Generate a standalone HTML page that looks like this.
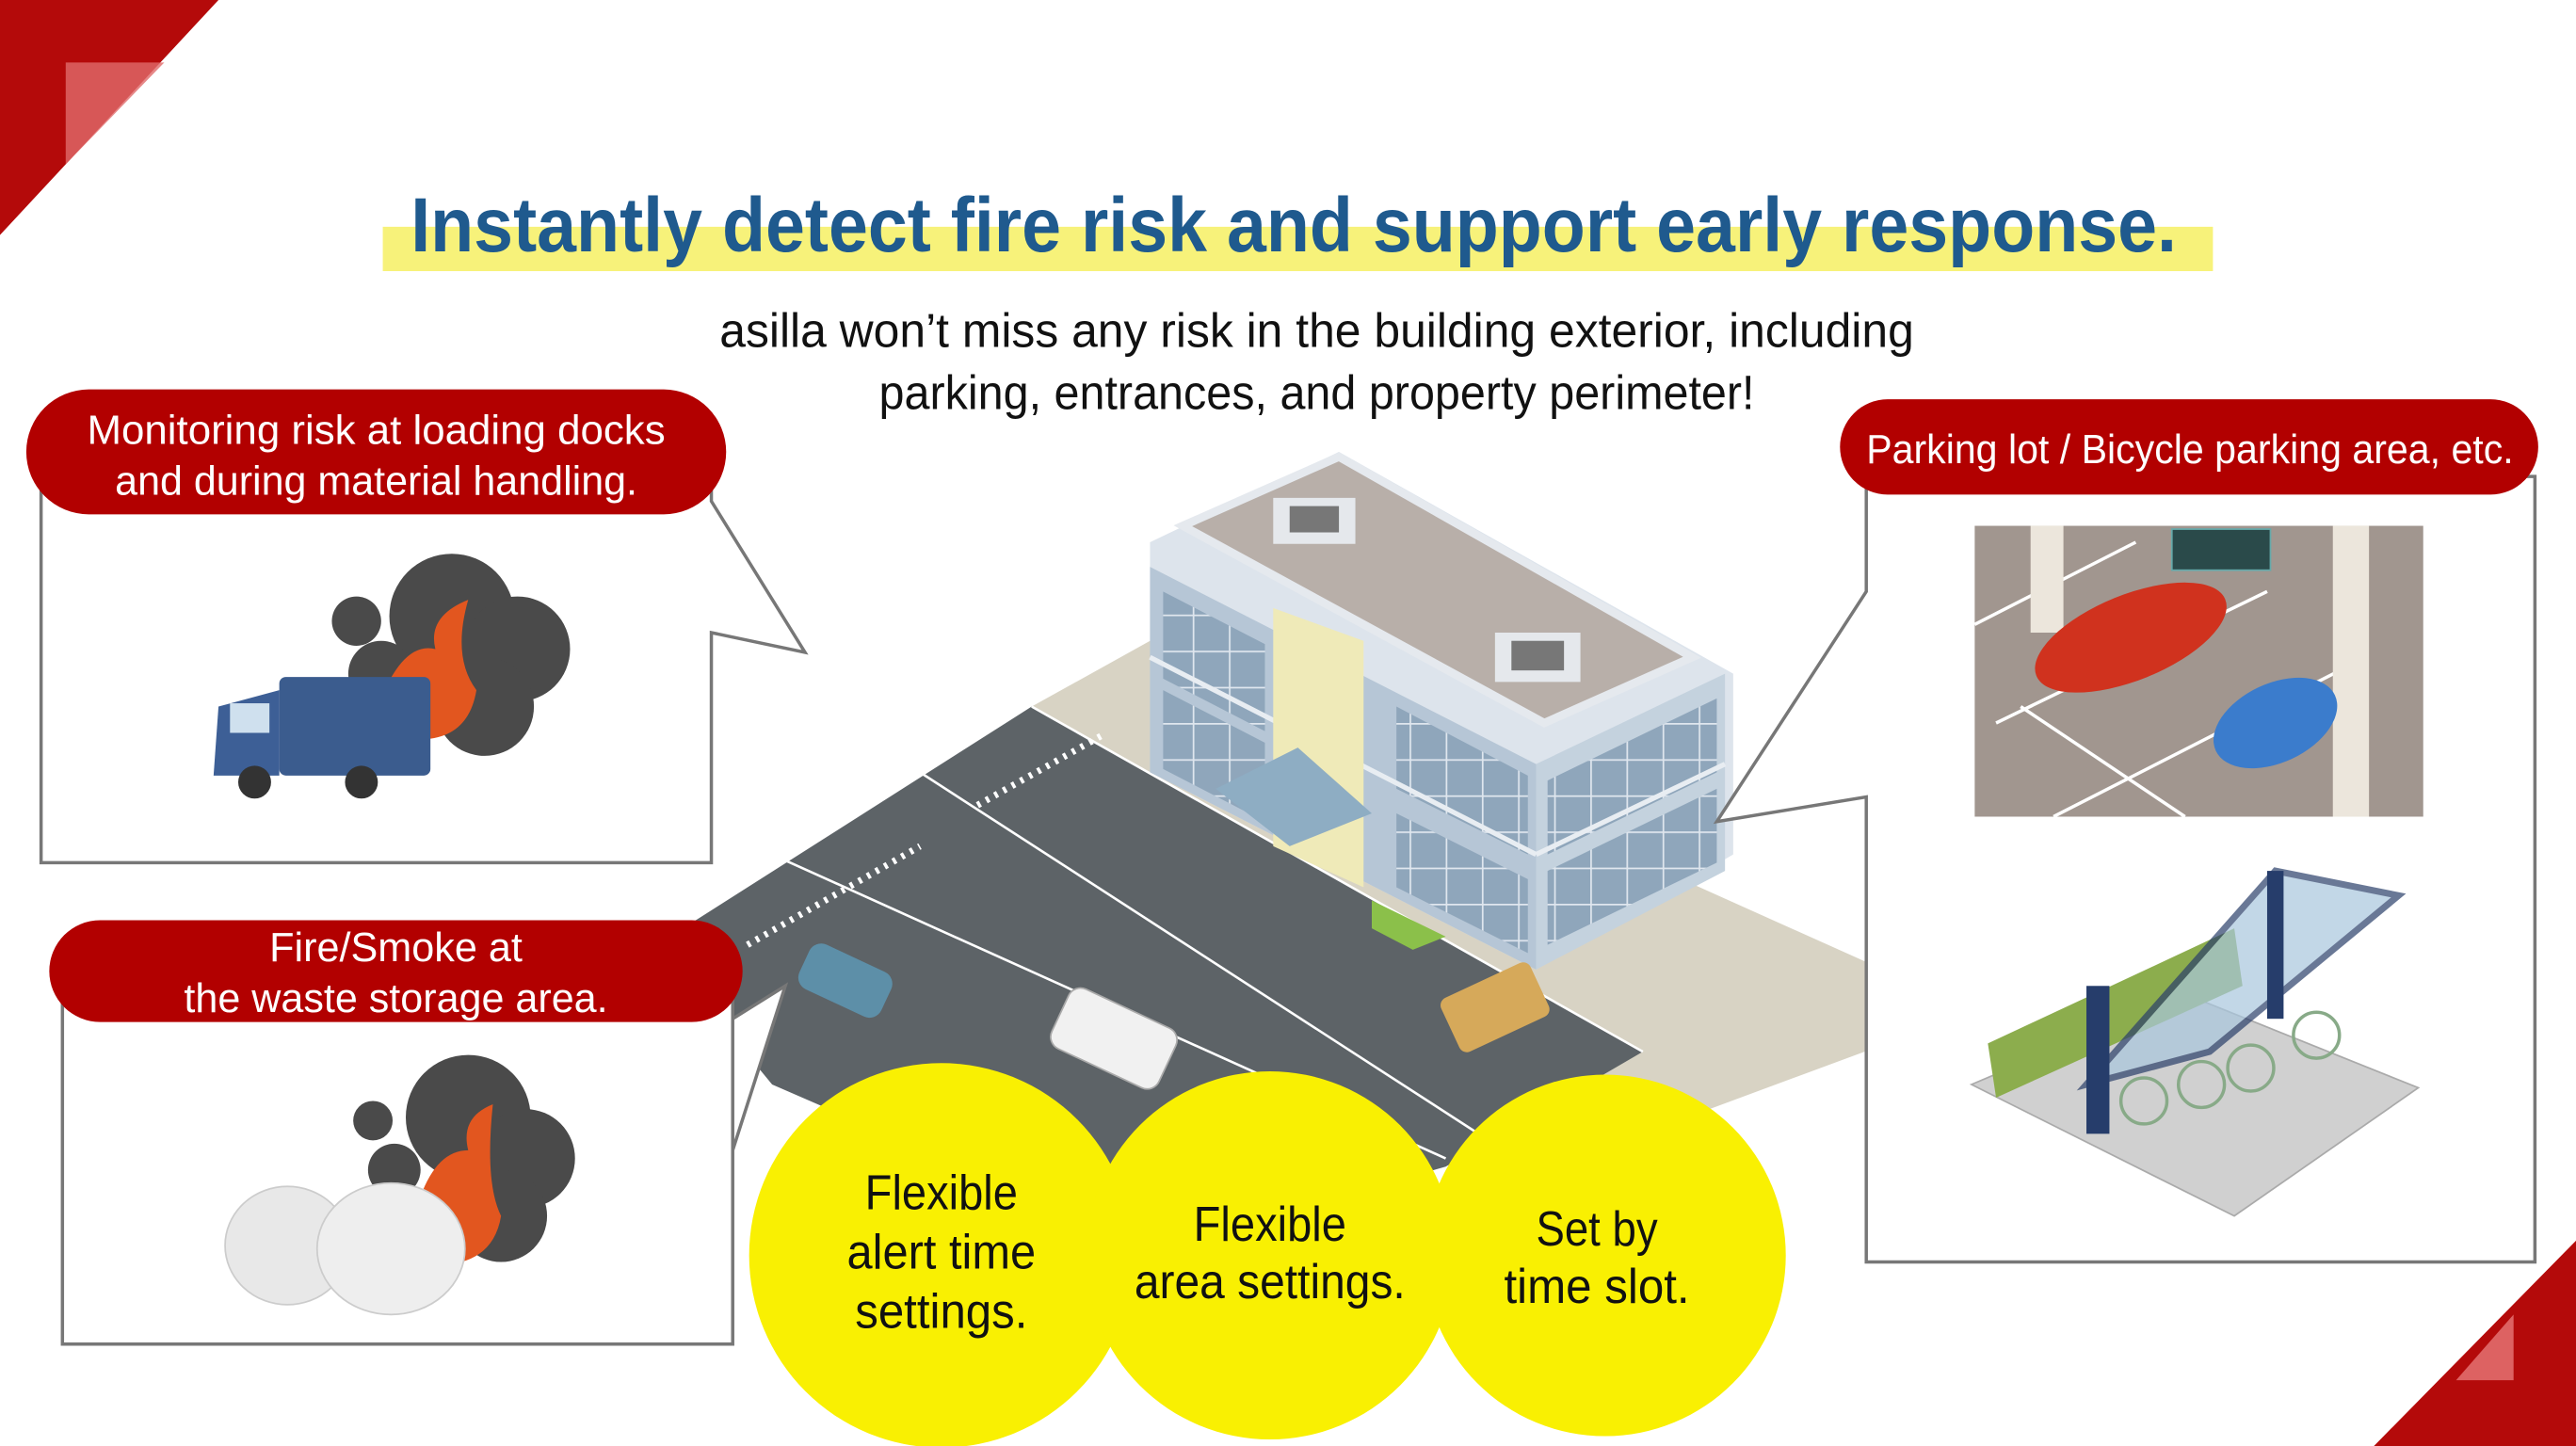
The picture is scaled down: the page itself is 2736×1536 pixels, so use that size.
<!DOCTYPE html>
<html><head><meta charset="utf-8"><style>
html,body{margin:0;padding:0;background:#fff;}
svg{display:block;}
text{font-family:"Liberation Sans",sans-serif;}
</style></head><body>
<svg width="2736" height="1536" viewBox="0 0 1568 880" preserveAspectRatio="none" xmlns="http://www.w3.org/2000/svg">
<defs>
<pattern id="win" width="22" height="22" patternUnits="userSpaceOnUse">
<rect width="22" height="22" fill="#8fa6bb"/><path d="M0,0 H22 M0,0 V22" stroke="#dfe6ee" stroke-width="2"/>
</pattern>
</defs>
<rect width="1568" height="880" fill="#fff"/>
<!-- corners -->
<polygon points="0,0 133,0 0,143" fill="#b40a0a"/>
<polygon points="40,38 100,38 40,100" fill="#e06a6a" opacity="0.8"/>
<polygon points="1568,755 1568,880 1445,880" fill="#b40a0a"/>
<polygon points="1530,800 1530,840 1495,840" fill="#e88" opacity="0.7"/>
<!-- title -->
<rect x="233" y="138" width="1114" height="27" fill="#f7f27a"/>
<text x="250" y="153" font-size="47" font-weight="bold" fill="#1f5a8e" textLength="1075" lengthAdjust="spacingAndGlyphs">Instantly detect fire risk and support early response.</text>
<text x="438" y="211" font-size="29" fill="#111" textLength="727" lengthAdjust="spacingAndGlyphs">asilla won’t miss any risk in the building exterior, including</text>
<text x="535" y="249" font-size="29" fill="#111" textLength="533" lengthAdjust="spacingAndGlyphs">parking, entrances, and property perimeter!</text>

<!-- ground -->
<polygon points="628,430 700,390 1135,585 1135,640 1000,690 870,700" fill="#d8d3c4"/>
<polygon points="400,575 628,430 1000,640 880,710 700,760 470,660" fill="#5d6367"/>
<g stroke="#fff" stroke-width="1.5" fill="none">
<line x1="628" y1="430" x2="1000" y2="640"/>
<line x1="560" y1="470" x2="900" y2="690"/>
<line x1="470" y1="520" x2="880" y2="705"/>
</g>
<g stroke="#fff" stroke-width="4" stroke-dasharray="2,4" fill="none">
<line x1="595" y1="490" x2="670" y2="448"/>
<line x1="455" y1="575" x2="560" y2="515"/>
</g>
<!-- building -->
<polygon points="700,330 815,275 1055,410 1055,520 935,590 700,470" fill="#dde4ec"/>
<polygon points="700,345 935,465 935,590 700,470" fill="#b6c6d6"/>
<polygon points="935,465 1050,410 1050,530 935,590" fill="#c4d2de"/>
<polygon points="708,360 770,392 770,445 708,413" fill="url(#win)"/>
<polygon points="708,420 770,452 770,500 708,468" fill="url(#win)"/>
<polygon points="850,430 930,472 930,520 850,480" fill="url(#win)"/>
<polygon points="850,495 930,535 930,580 850,540" fill="url(#win)"/>
<polygon points="942,475 1045,425 1045,470 942,520" fill="url(#win)"/>
<polygon points="942,530 1045,480 1045,525 942,575" fill="url(#win)"/>
<g stroke="#e8edf2" stroke-width="3">
<line x1="700" y1="400" x2="935" y2="520"/><line x1="935" y1="520" x2="1050" y2="465"/>
</g>
<polygon points="720,320 815,278 1030,400 940,440" fill="#b8afa9" stroke="#e5e9ee" stroke-width="5"/>
<rect x="775" y="303" width="50" height="28" fill="#e5e8ec"/><rect x="785" y="308" width="30" height="16" fill="#777"/>
<rect x="910" y="385" width="52" height="30" fill="#e5e8ec"/><rect x="920" y="390" width="32" height="18" fill="#777"/>
<polygon points="775,370 830,390 830,540 775,515" fill="#efeab8"/>
<polygon points="740,480 790,455 835,495 785,515" fill="#8eadc3"/>
<polygon points="835,548 880,570 860,578 835,565" fill="#8bc04a"/>
<!-- vehicles -->
<g><rect x="487" y="582" width="55" height="30" rx="8" fill="#5d8fa8" transform="rotate(25 515 597)"/>
<rect x="642" y="612" width="72" height="40" rx="8" fill="#f1f1f1" stroke="#aaa" transform="rotate(25 678 632)"/>
<rect x="880" y="595" width="60" height="36" rx="5" fill="#d6a95a" transform="rotate(-25 910 613)"/></g>

<!-- yellow circles -->
<circle cx="573" cy="764" r="117" fill="#f9f002"/>
<circle cx="773" cy="764" r="112" fill="#f9f002"/>
<circle cx="977" cy="764" r="110" fill="#f9f002"/>
<g font-size="30" fill="#111" text-anchor="middle">
<text x="573" y="736" textLength="93" lengthAdjust="spacingAndGlyphs">Flexible</text><text x="573" y="772" textLength="115" lengthAdjust="spacingAndGlyphs">alert time</text><text x="573" y="808" textLength="105" lengthAdjust="spacingAndGlyphs">settings.</text>
<text x="773" y="755" textLength="93" lengthAdjust="spacingAndGlyphs">Flexible</text><text x="773" y="790" textLength="165" lengthAdjust="spacingAndGlyphs">area settings.</text>
<text x="972" y="758" textLength="74" lengthAdjust="spacingAndGlyphs">Set by</text><text x="972" y="793" textLength="113" lengthAdjust="spacingAndGlyphs">time slot.</text>
</g>

<!-- left callout 1 -->
<path d="M25,290 H433 V305 L490,397 L433,385 V525 H25 Z" fill="#fff" stroke="#777" stroke-width="2"/>
<rect x="16" y="237" width="426" height="76" rx="38" fill="#b20000"/>
<text x="229" y="270" font-size="25" fill="#fff" text-anchor="middle" textLength="352" lengthAdjust="spacingAndGlyphs">Monitoring risk at loading docks</text>
<text x="229" y="301" font-size="25" fill="#fff" text-anchor="middle" textLength="318" lengthAdjust="spacingAndGlyphs">and during material handling.</text>
<g fill="#4a4a4a"><circle cx="275" cy="375" r="38"/><circle cx="315" cy="395" r="32"/><circle cx="295" cy="430" r="30"/><circle cx="232" cy="410" r="20"/><circle cx="217" cy="378" r="15"/></g>
<path d="M230,430 Q245,390 265,395 Q260,375 285,365 Q275,400 290,420 Q285,450 255,450 Z" fill="#e2561f"/>
<rect x="170" y="412" width="92" height="60" rx="4" fill="#3b5c8e"/>
<polygon points="133,430 170,420 170,472 130,472" fill="#3d5f96"/>
<rect x="140" y="428" width="24" height="18" fill="#cfe0ee"/>
<circle cx="155" cy="476" r="10" fill="#333"/><circle cx="220" cy="476" r="10" fill="#333"/>

<!-- left callout 2 -->
<path d="M38,600 H446 V700 L478,600 L446,620 V818 H38 Z" fill="#fff" stroke="#777" stroke-width="2"/>
<rect x="30" y="560" width="422" height="62" rx="31" fill="#b20000"/>
<text x="241" y="585" font-size="25" fill="#fff" text-anchor="middle" textLength="154" lengthAdjust="spacingAndGlyphs">Fire/Smoke at</text>
<text x="241" y="616" font-size="25" fill="#fff" text-anchor="middle" textLength="258" lengthAdjust="spacingAndGlyphs">the waste storage area.</text>
<g fill="#4a4a4a"><circle cx="285" cy="680" r="38"/><circle cx="320" cy="705" r="30"/><circle cx="305" cy="740" r="28"/><circle cx="240" cy="712" r="16"/><circle cx="227" cy="682" r="12"/></g>
<path d="M250,750 Q260,700 285,700 Q280,680 300,672 Q295,720 305,740 Q300,770 265,770 Z" fill="#e2561f"/>
<ellipse cx="175" cy="758" rx="38" ry="36" fill="#e8e8e8" stroke="#ccc"/>
<ellipse cx="238" cy="760" rx="45" ry="40" fill="#eeeeee" stroke="#ccc"/>

<!-- right callout -->
<path d="M1136,290 H1543 V768 H1136 V485 L1045,500 L1136,360 Z" fill="#fff" stroke="#777" stroke-width="2"/>
<rect x="1120" y="243" width="425" height="58" rx="29" fill="#b20000"/>
<text x="1333" y="282" font-size="25" fill="#fff" text-anchor="middle" textLength="394" lengthAdjust="spacingAndGlyphs">Parking lot / Bicycle parking area, etc.</text>
<rect x="1202" y="320" width="273" height="177" fill="#a1968f"/>
<g stroke="#fff" stroke-width="2" fill="none"><path d="M1202,380 L1300,330 M1215,440 L1380,360 M1250,497 L1440,400 M1230,430 L1330,497"/></g>
<rect x="1236" y="320" width="20" height="65" fill="#ece6dc"/>
<rect x="1420" y="320" width="22" height="177" fill="#ece6dc"/>
<rect x="1322" y="322" width="60" height="25" fill="#2a4a4a" stroke="#6aa" />
<ellipse cx="1297" cy="388" rx="62" ry="26" fill="#d0321e" transform="rotate(-22 1297 388)"/>
<ellipse cx="1385" cy="440" rx="40" ry="24" fill="#3b7ccc" transform="rotate(-25 1385 440)"/>
<polygon points="1200,660 1330,605 1472,662 1360,740" fill="#d0d0d0" stroke="#aaa"/>
<polygon points="1210,635 1360,565 1365,600 1215,668" fill="#8cad4d"/>
<polygon points="1270,660 1385,530 1460,545 1345,640" fill="#a9c7de" opacity="0.7" stroke="#2b3f6b" stroke-width="4"/>
<rect x="1270" y="600" width="14" height="90" fill="#263d6b"/>
<rect x="1380" y="530" width="10" height="90" fill="#263d6b"/>
<g stroke="#8a8" stroke-width="2" fill="none"><circle cx="1305" cy="670" r="14"/><circle cx="1340" cy="660" r="14"/><circle cx="1370" cy="650" r="14"/><circle cx="1410" cy="630" r="14"/></g>
</svg>
</body></html>
